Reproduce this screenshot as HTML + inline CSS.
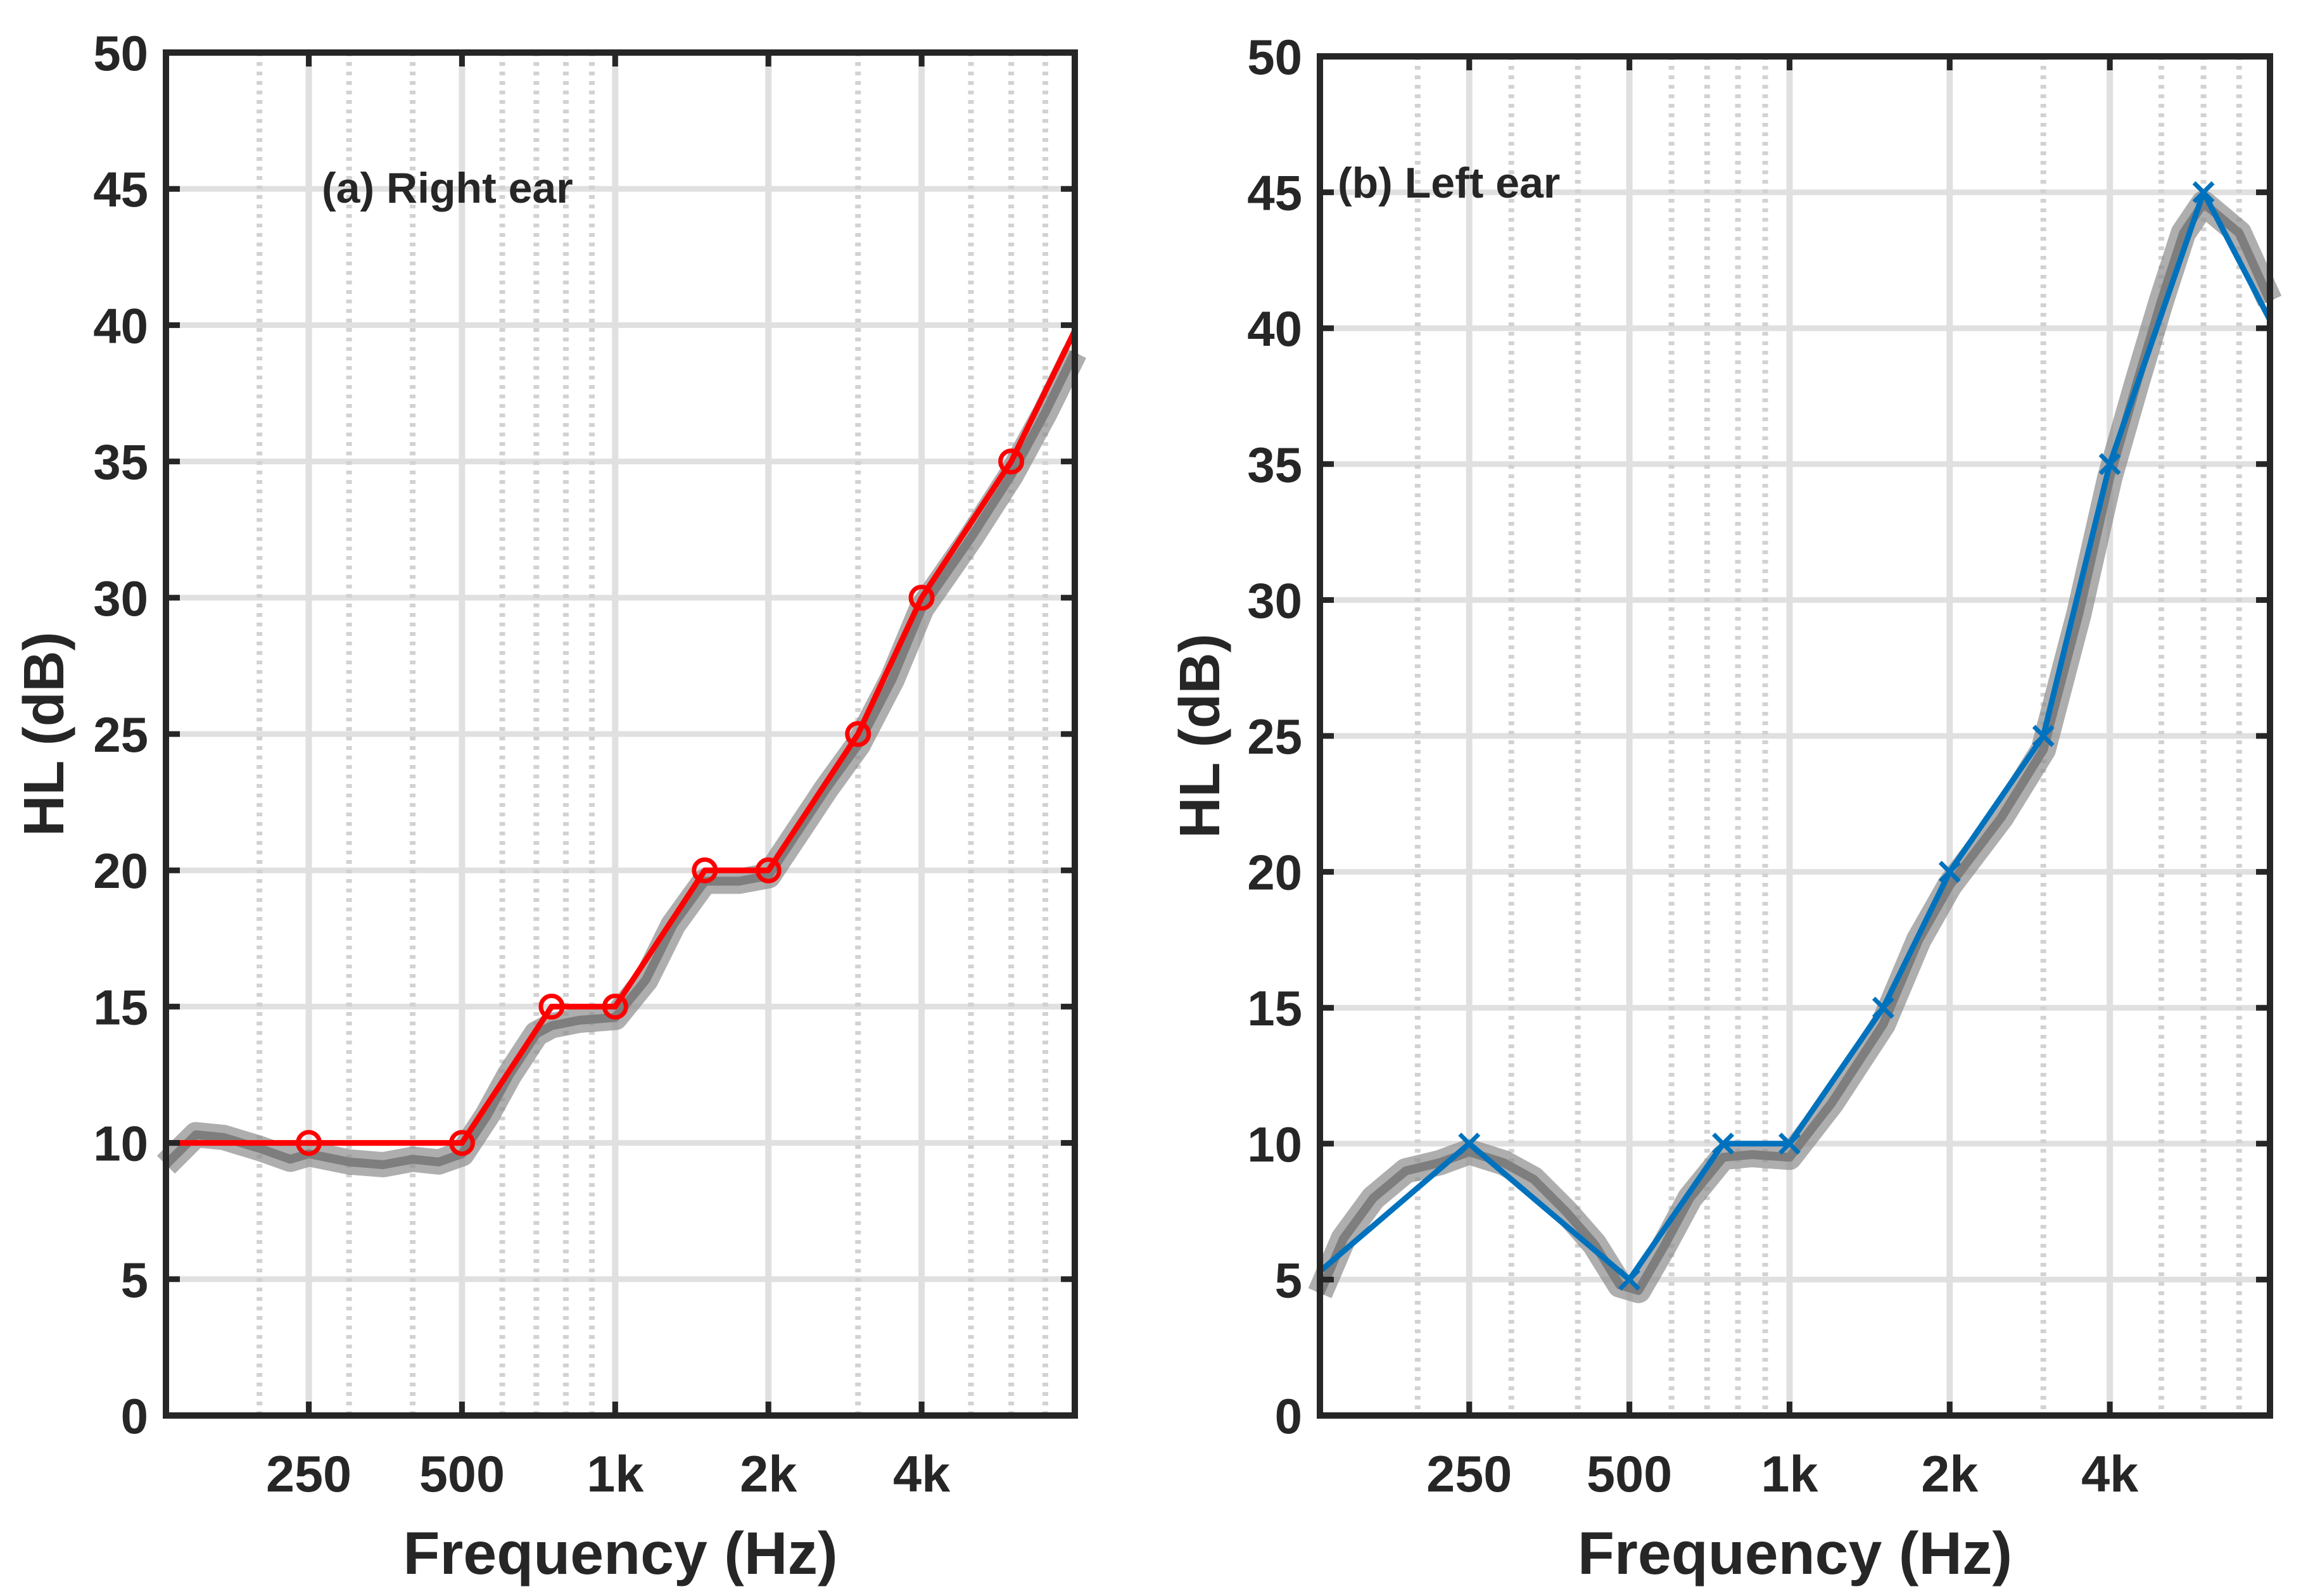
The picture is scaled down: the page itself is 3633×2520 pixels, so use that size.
<!DOCTYPE html>
<html><head><meta charset="utf-8">
<style>
html,body{margin:0;padding:0;background:#fff;}
svg{display:block;}
text{font-family:"Liberation Sans",Arial,sans-serif;font-weight:bold;fill:#262626;}
</style></head>
<body>
<svg id="fig" width="3633" height="2520" viewBox="0 0 3633 2520" xmlns="http://www.w3.org/2000/svg"></svg>
<script>
// ---- data ----
const xTickVals = [250, 500, 1000, 2000, 4000];
const xTickLabels = ["250", "500", "1k", "2k", "4k"];
const minorVals = [200,300,400,600,700,800,900,3000,5000,6000,7000,8000];
const yTickVals = [0,5,10,15,20,25,30,35,40,45,50];

// right ear (panel a)
const rightFreq = [131, 250, 500, 750, 1000, 1500, 2000, 3000, 4000, 6000, 8000];
const rightHL   = [10, 10, 10, 15, 15, 20, 20, 25, 30, 35, 39.8];
const rightMarkFreq = [250, 500, 750, 1000, 1500, 2000, 3000, 4000, 6000];
const rightMarkHL   = [10, 10, 15, 15, 20, 20, 25, 30, 35];
const rightTraceFreq = [131,150,170,200,230,250,300,350,400,450,500,560,620,700,750,850,1000,1150,1300,1500,1750,2000,2300,2600,3000,3500,4000,5000,6000,7000,8000];
const rightTraceHL   = [9.2,10.3,10.2,9.8,9.4,9.6,9.3,9.2,9.4,9.3,9.6,11,12.5,14,14.3,14.5,14.6,16,18,19.6,19.6,19.8,21.5,23,24.6,27,29.6,32.2,34.5,36.8,39];

// left ear (panel b)
const leftFreq = [131, 250, 500, 750, 1000, 1500, 2000, 3000, 4000, 6000, 8000];
const leftHL   = [5.3, 10, 5, 10, 10, 15, 20, 25, 35, 45, 40.3];
const leftMarkFreq = [250, 500, 750, 1000, 1500, 2000, 3000, 4000, 6000];
const leftMarkHL   = [10, 5, 10, 10, 15, 20, 25, 35, 45];
const leftTraceFreq = [131,145,165,190,220,250,290,330,380,430,480,520,580,650,750,850,1000,1200,1500,1750,2000,2500,3000,3500,4000,4500,5000,5500,6000,7000,8000];
const leftTraceHL   = [4.5,6.5,8,9,9.3,9.7,9.3,8.7,7.5,6.3,4.8,4.6,6.2,8,9.5,9.6,9.5,11.5,14.4,17.5,19.5,22,24.5,29.5,34.5,38,41,43.5,44.6,43.5,41];

const NS = "http://www.w3.org/2000/svg";
const svg = document.getElementById('fig');
function mk(tag, attrs, parent){
  const e = document.createElementNS(NS, tag);
  for (const k in attrs) e.setAttribute(k, attrs[k]);
  (parent||svg).appendChild(e);
  return e;
}
const XMIN = 131, XMAX = 8000;

function panel(cfg){
  const g = mk('g', {});
  
  
  const L=cfg.L, R=cfg.R, T=cfg.T, B=cfg.B;
  const xs = f => L + (R-L)*Math.log(f/XMIN)/Math.log(XMAX/XMIN);
  const ys = v => B - (B-T)*v/50;
  yTickVals.forEach(v=>{
    if (v===0||v===50) return;
    const l = mk('line',{x1:L,x2:R,y1:ys(v),y2:ys(v),stroke:'#e0e0e0','stroke-width':9},g);
    
    
  });
  minorVals.forEach(f=>{
    const x = xs(f); if (x>=R-3) return;
    const l = mk('line',{x1:x,x2:x,y1:T,y2:B,stroke:'#d2d2d2','stroke-width':9,'stroke-dasharray':'6 9'},g);
    
    
  });
  xTickVals.forEach(f=>{
    const l = mk('line',{x1:xs(f),x2:xs(f),y1:T,y2:B,stroke:'#e0e0e0','stroke-width':10},g);
    
    
  });
  const tp = cfg.tf.map((f,i)=>xs(f).toFixed(1)+','+ys(cfg.th[i]).toFixed(1)).join(' ');
  const band = mk('polyline',{points:tp,fill:'none',stroke:'#8c8c8c','stroke-width':40,'stroke-linejoin':'round',opacity:0.7},g);
  
  
  const tr = mk('polyline',{points:tp,fill:'none',stroke:'#7e7e7e','stroke-width':14,'stroke-linejoin':'round'},g);
  
  
  const lp = cfg.lf.map((f,i)=>xs(f).toFixed(1)+','+ys(cfg.lh[i]).toFixed(1)).join(' ');
  const line = mk('polyline',{points:lp,fill:'none',stroke:cfg.color,'stroke-width':9,'stroke-linejoin':'round'},g);
  
  
  cfg.mf.forEach((f,i)=>{
    const x=xs(f), y=ys(cfg.mh[i]);
    if (cfg.marker==='o'){
      const c = mk('circle',{cx:x,cy:y,r:17,fill:'none',stroke:cfg.color,'stroke-width':7},g);
      
      
    } else {
      const s=15;
      const p = mk('path',{d:`M${x-s},${y-s}L${x+s},${y+s}M${x-s},${y+s}L${x+s},${y-s}`,stroke:cfg.color,'stroke-width':7,fill:'none'},g);
      
      
    }
  });
  yTickVals.forEach(v=>{
    const y=ys(v);
    mk('line',{x1:L,x2:L+22,y1:y,y2:y,stroke:'#262626','stroke-width':9},g);
    mk('line',{x1:R-22,x2:R,y1:y,y2:y,stroke:'#262626','stroke-width':9},g);
    const t = mk('text',{x:L-28,y:y+28,'text-anchor':'end','font-size':78},g);
    t.textContent = v;
    
    
  });
  xTickVals.forEach((f,i)=>{
    const x=xs(f);
    mk('line',{x1:x,x2:x,y1:B,y2:B-22,stroke:'#262626','stroke-width':9},g);
    mk('line',{x1:x,x2:x,y1:T,y2:T+22,stroke:'#262626','stroke-width':9},g);
    const t = mk('text',{x:x,y:B+120,'text-anchor':'middle','font-size':81},g);
    t.textContent = xTickLabels[i];
    
    
  });
  const fr = mk('rect',{x:L,y:T,width:R-L,height:B-T,fill:'none',stroke:'#262626','stroke-width':10},g);
  
  
  const xl = mk('text',{x:(L+R)/2,y:2485,'text-anchor':'middle','font-size':95},g);
  xl.textContent='Frequency (Hz)';
  
  
  const yl = mk('text',{x:0,y:0,'text-anchor':'middle','font-size':90,transform:`translate(${cfg.yx},${(T+B)/2}) rotate(-90)`},g);
  yl.textContent='HL (dB)';
  
  
  const an = mk('text',{x:cfg.ax,y:cfg.ay,'font-size':68,fill:'#000'},g);
  an.textContent=cfg.title;
  
  
}

panel({name:'right-ear-panel',L:262,R:1697,T:83,B:2235,color:'#ff0000',marker:'o',
  lf:rightFreq,lh:rightHL,mf:rightMarkFreq,mh:rightMarkHL,tf:rightTraceFreq,th:rightTraceHL,
  yx:100,ax:508,ay:320,title:'(a) Right ear'});
panel({name:'left-ear-panel',L:2084,R:3584,T:89,B:2235,color:'#0072bd',marker:'x',
  lf:leftFreq,lh:leftHL,mf:leftMarkFreq,mh:leftMarkHL,tf:leftTraceFreq,th:leftTraceHL,
  yx:1925,ax:2112,ay:312,title:'(b) Left ear'});
</script>
</body></html>
